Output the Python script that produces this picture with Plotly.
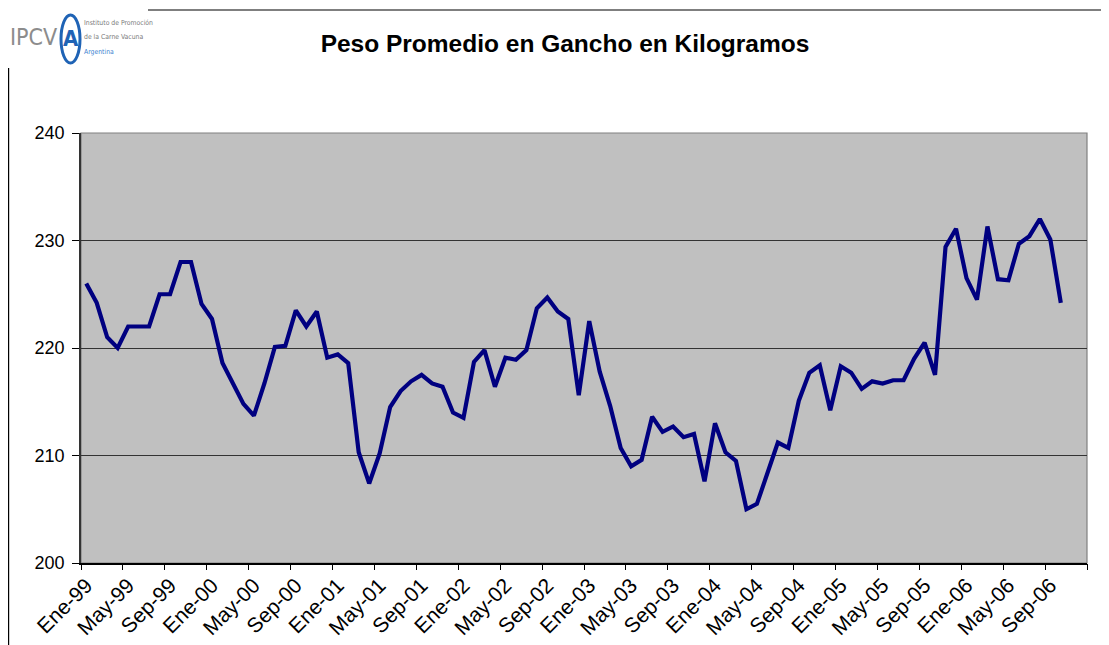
import plotly.graph_objects as go

# ---- data ----
month_abbr = ["Ene", "Feb", "Mar", "Abr", "May", "Jun", "Jul", "Ago", "Sep", "Oct", "Nov", "Dic"]
years = ["99", "00", "01", "02", "03", "04", "05", "06"]
categories = [f"{m}-{y}" for y in years for m in month_abbr]  # Ene-99 ... Dic-06

peso = [
    226.0, 224.2, 221.0, 220.0, 222.0, 222.0, 222.0, 225.0, 225.0, 228.0, 228.0, 224.1,   # 1999
    222.7, 218.6, 216.7, 214.8, 213.7, 216.7, 220.1, 220.2, 223.5, 222.0, 223.4, 219.1,   # 2000
    219.4, 218.6, 210.3, 207.4, 210.2, 214.5, 216.0, 216.9, 217.5, 216.7, 216.4, 214.0,   # 2001
    213.5, 218.7, 219.8, 216.4, 219.1, 218.9, 219.8, 223.7, 224.7, 223.4, 222.7, 215.6,   # 2002
    222.5, 217.8, 214.6, 210.7, 209.0, 209.6, 213.6, 212.2, 212.7, 211.7, 212.0, 207.6,   # 2003
    213.0, 210.3, 209.5, 205.0, 205.5, 208.3, 211.2, 210.7, 215.1, 217.7, 218.4, 214.2,   # 2004
    218.3, 217.7, 216.2, 216.9, 216.7, 217.0, 217.0, 219.0, 220.5, 217.5, 229.4, 231.1,   # 2005
    226.5, 224.5, 231.3, 226.4, 226.3, 229.7, 230.4, 232.0, 230.1, 224.2,                 # 2006
]

tick_labels = categories[::4]           # Ene, May, Sep of each year
y_ticks = [200, 210, 220, 230, 240]

title_text = "Peso Promedio en Gancho en Kilogramos"
logo_lines = ["Instituto de Promoción", "de la Carne Vacuna", "Argentina"]

# ---- page geometry (page has an 8px body margin) ----
OFF = 8
W, H = 1109 - OFF, 645 - OFF
PL, PR, PT, PB = 81, 1087, 133, 563          # plot area in page pixels


def px(xp):
    return (xp - PL) / (PR - PL)


def py(yp):
    return 1 + (PT - yp) / (PB - PT)


x_idx = list(range(len(peso)))
fig = go.Figure()
fig.add_trace(go.Scatter(
    x=x_idx, y=peso, mode="lines",
    line=dict(color="#000080", width=4.2),
    hoverinfo="y", showlegend=False,
))
# invisible trace on overlay axis used for boundary tick marks
fig.add_trace(go.Scatter(x=[-0.5], y=[200], xaxis="x2", mode="markers",
                         marker=dict(opacity=0), showlegend=False, hoverinfo="skip"))

n_cat = len(categories)
font_main = "Liberation Sans, Arial, sans-serif"
font_narrow = "DejaVu Sans Condensed, Liberation Sans Narrow, sans-serif"

annotations = [
    dict(text="IPCV", xref="paper", yref="paper",
         x=px(8), y=py(37), xanchor="left", yanchor="middle",
         showarrow=False,
         font=dict(size=23, color="#8c8c8c", family=font_narrow)),
    dict(text="<b>A</b>", xref="paper", yref="paper",
         x=px(70.5), y=py(38), xanchor="center", yanchor="middle",
         showarrow=False,
         font=dict(size=22, color="#1f63b5", family="DejaVu Sans Condensed, sans-serif")),
]
for line_text, yp, col in zip(logo_lines, [23, 37, 52], ["#7a7a7a", "#7a7a7a", "#3b7fd0"]):
    annotations.append(dict(text=line_text, xref="paper", yref="paper",
                            x=px(82), y=py(yp), xanchor="left", yanchor="middle",
                            showarrow=False,
                            font=dict(size=6.8, color=col, family=font_narrow)))

fig.update_layout(
    width=W, height=H,
    margin=dict(l=PL - OFF, r=1109 - PR, t=PT - OFF, b=645 - PB, autoexpand=False),
    paper_bgcolor="white",
    plot_bgcolor="#C0C0C0",
    font=dict(family=font_main, color="black"),
    title=dict(text=f"<b>{title_text}</b>", x=(565 - OFF) / W, xref="container", xanchor="center",
               y=1 - (43 - OFF) / H, yref="container", yanchor="middle",
               font=dict(size=24.5, family=font_main, color="black")),
    xaxis=dict(
        range=[-0.5, n_cat - 0.5],
        tickmode="array",
        tickvals=[categories.index(t) for t in tick_labels],
        ticktext=tick_labels,
        tickangle=-45,
        ticks="",
        automargin=False,
        showgrid=False, zeroline=False,
        showline=True, linecolor="black", linewidth=1.5,
        tickfont=dict(size=21, family=font_main, color="black"),
    ),
    xaxis2=dict(
        overlaying="x",
        range=[-0.5, n_cat - 0.5],
        tickmode="array",
        tickvals=[i - 0.5 for i in range(0, n_cat + 1, 4)],
        showticklabels=False,
        ticks="outside", ticklen=6, tickwidth=1, tickcolor="black",
        automargin=False,
        showgrid=False, zeroline=False, showline=False,
        side="bottom",
    ),
    yaxis=dict(
        range=[200, 240],
        tickmode="array", tickvals=y_ticks,
        ticks="outside", ticklen=7, tickwidth=1, tickcolor="black",
        ticklabelstandoff=4,
        automargin=False,
        showgrid=True, gridcolor="#333333", gridwidth=1,
        zeroline=False,
        showline=True, linecolor="#333333", linewidth=1.5,
        tickfont=dict(size=18, family=font_main, color="black"),
    ),
    shapes=[
        # plot area border (top/right)
        dict(type="rect", xref="paper", yref="paper", x0=0, x1=1, y0=0, y1=1,
             line=dict(color="#808080", width=1.2), layer="below"),
        # page header line
        dict(type="line", xref="paper", yref="paper",
             x0=px(148), x1=px(1109), y0=py(10), y1=py(10),
             line=dict(color="black", width=1.2)),
        # left page border
        dict(type="line", xref="paper", yref="paper",
             x0=px(8.6), x1=px(8.6), y0=py(645), y1=py(68),
             line=dict(color="black", width=1.2)),
        # logo ellipse
        dict(type="circle", xref="paper", yref="paper",
             x0=px(61), x1=px(80), y0=py(63), y1=py(15),
             line=dict(color="#1f63b5", width=3), fillcolor="white"),
    ],
    annotations=annotations,
)

fig.write_html("out.html")
